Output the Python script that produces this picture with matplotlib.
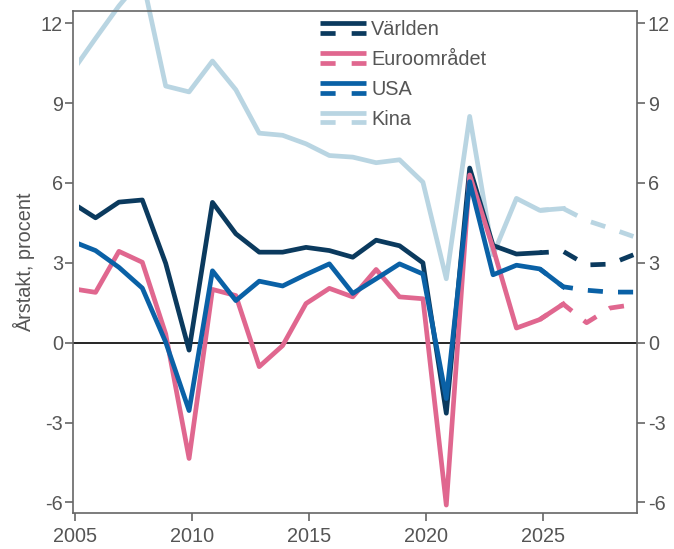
import matplotlib
matplotlib.use("Agg")
import matplotlib.pyplot as plt
from matplotlib.lines import Line2D
from matplotlib.patches import Rectangle
from matplotlib.legend_handler import HandlerBase

plt.rcParams['font.family'] = ['Liberation Sans', 'DejaVu Sans']
plt.rcParams['axes.unicode_minus'] = False

# annual growth, 2004-2028 (2025 onwards partly forecast)
years = list(range(2004, 2029))
varlden = [5.25, 4.69, 5.28, 5.36, 2.98, -0.28, 5.27, 4.09, 3.4, 3.4, 3.58, 3.46, 3.21, 3.85, 3.64, 3.0,
           -2.65, 6.56, 3.65, 3.33, 3.38, 3.43, 2.92, 2.95, 3.3]
euro = [2.03, 1.89, 3.43, 3.02, 0.33, -4.35, 2.0, 1.77, -0.9, -0.11, 1.47, 2.04, 1.72, 2.75, 1.72, 1.65,
        -6.1, 6.3, 3.55, 0.55, 0.87, 1.45, 0.75, 1.3, 1.43]
usa = [3.81, 3.46, 2.83, 2.05, 0.02, -2.55, 2.7, 1.58, 2.31, 2.13, 2.56, 2.96, 1.85, 2.4, 2.96, 2.58,
       -2.1, 6.05, 2.55, 2.91, 2.77, 2.1, 1.97, 1.9, 1.9]
kina = [10.18, 11.43, 12.65, 13.7, 9.64, 9.42, 10.58, 9.5, 7.87, 7.79, 7.47, 7.03, 6.97, 6.76, 6.87, 6.03,
        2.4, 8.5, 3.3, 5.42, 4.97, 5.04, 4.59, 4.3, 3.99]

labels = ['Världen', 'Euroområdet', 'USA', 'Kina']
series = [varlden, euro, usa, kina]
colors = ['#0b3a5e', '#e0678f', '#0a61a6', '#b9d5e2']
solid_until = [2024, 2025, 2025, 2025]   # last outcome year for each line
zorders = [3, 4, 5, 2]

x_offset = 0.88   # points sit late in each year
first_visible = 2005.17
lw = 3.4
fs = 14.3


class SolidOverDashed(HandlerBase):
    def create_artists(self, legend, orig_handle, xdescent, ydescent, width, height, fontsize, trans):
        c = orig_handle.get_color()
        yc = (height - ydescent) / 2
        x0, x1 = -xdescent, width - xdescent
        top = Line2D([x0, x1], [yc + 3.5, yc + 3.5], color=c, lw=lw, solid_capstyle='butt', transform=trans)
        bot = Line2D([x0, x1], [yc - 3.5, yc - 3.5], color=c, lw=lw, linestyle=(0, (3.2, 3.4)),
                     dash_capstyle='butt', transform=trans)
        return [top, bot]


fig = plt.figure(figsize=(6.74, 5.49), dpi=100)
ax = fig.add_axes([0.1088, 0.065, 0.8368, 0.9155])

clip = Rectangle((first_visible, -100), 100, 200, transform=ax.transData)

handles = []
for name, vals, col, last, z in zip(labels, series, colors, solid_until, zorders):
    xs = [y + x_offset for y in years]
    n = years.index(last) + 1
    solid, = ax.plot(xs[:n], vals[:n], color=col, lw=lw, solid_joinstyle='round', zorder=z)
    solid.set_clip_path(clip)
    k = years.index(2024)
    ax.plot(xs[k:], vals[k:], color=col, lw=lw, linestyle=(1.3, (3.2, 3.2)),
            dash_capstyle='butt', zorder=z)
    handles.append(Line2D([], [], color=col, lw=lw, label=name))

ax.axhline(0, color='black', lw=1.2, zorder=1)

ax.set_xlim(2004.93, 2029.05)
ax.set_ylim(-6.41, 12.47)
ax.set_xticks([2005, 2010, 2015, 2020, 2025])
ax.set_yticks([-6, -3, 0, 3, 6, 9, 12])

gray = '#555555'
for s in ax.spines.values():
    s.set_color('#666666')
    s.set_linewidth(1.2)
ax.tick_params(axis='both', colors='#666666', labelcolor=gray, labelsize=fs, width=1.2, length=5.5)
ax.tick_params(axis='y', left=True, right=True, labelleft=True, labelright=True, pad=2)
ax.tick_params(axis='x', pad=4)
ax.set_ylabel('Årstakt, procent', fontsize=fs, color=gray, labelpad=4)

ax.legend(handles=handles, handler_map={Line2D: SolidOverDashed()}, loc='upper left',
          bbox_to_anchor=(0.437, 0.982), frameon=False, fontsize=fs, handlelength=33.1 / fs,
          handletextpad=3.9 / fs, labelspacing=0.55, borderpad=0, borderaxespad=0,
          labelcolor=gray)

fig.savefig('out.png', dpi=100)
